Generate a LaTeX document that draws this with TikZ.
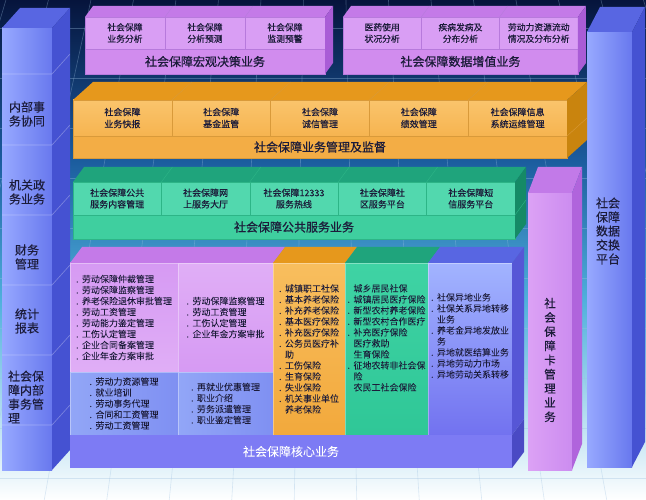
\documentclass[tikz,border=0pt]{standalone}
\usepackage{fontspec}
\setmainfont{Noto Sans CJK SC}[FakeBold=0.3]
\newfontfamily\barfont{Noto Sans CJK SC}[FakeBold=0.9]
\usetikzlibrary{positioning}
\definecolor{cBgA}{HTML}{06143C}
\definecolor{cBgB}{HTML}{1B5C9E}
\definecolor{cBgC}{HTML}{4FB0DC}
\definecolor{cGrid}{HTML}{9DC0E0}
\definecolor{cPurCell}{HTML}{D99EF4}
\definecolor{cPurBar}{HTML}{D18CEE}
\definecolor{cPurTop}{HTML}{C47AE8}
\definecolor{cPurSide}{HTML}{A95CD6}
\definecolor{cPurLine}{HTML}{B77ADC}
\definecolor{cOraCell}{HTML}{FAC46C}
\definecolor{cOraCellB}{HTML}{F6B450}
\definecolor{cOraBar}{HTML}{F3AD45}
\definecolor{cOraTop}{HTML}{E6981C}
\definecolor{cOraSide}{HTML}{C9840E}
\definecolor{cOraLine}{HTML}{D99A3A}
\definecolor{cGrnCell}{HTML}{52D8AE}
\definecolor{cGrnBar}{HTML}{3FCF9F}
\definecolor{cGrnTop}{HTML}{1FA47C}
\definecolor{cGrnSide}{HTML}{158A66}
\definecolor{cGrnLine}{HTML}{2DB587}
\definecolor{cBluL}{HTML}{97A9FF}
\definecolor{cBluR}{HTML}{6878EE}
\definecolor{cBluTop}{HTML}{5866E2}
\definecolor{cBluSide}{HTML}{4552D2}
\definecolor{cKPur}{HTML}{D69AF3}
\definecolor{cKPurB}{HTML}{E0AEF6}
\definecolor{cKBlu}{HTML}{92A6F7}
\definecolor{cKBluB}{HTML}{7F90F2}
\definecolor{cKOra}{HTML}{F8BE5E}
\definecolor{cKOraB}{HTML}{F2A93C}
\definecolor{cKGrn}{HTML}{3FD3A4}
\definecolor{cKGrnB}{HTML}{2FC797}
\definecolor{cKRt}{HTML}{A2B4FF}
\definecolor{cKRb}{HTML}{7272F0}
\definecolor{cKBar}{HTML}{7D7BF4}
\definecolor{cKSide}{HTML}{5656D6}
\definecolor{cKBarSide}{HTML}{4A4AC4}
\definecolor{cCrdL}{HTML}{DCA2F5}
\definecolor{cCrdR}{HTML}{CC8CF0}
\definecolor{cCrdTop}{HTML}{C27AE8}
\definecolor{cCrdSide}{HTML}{B064DC}
\definecolor{ink}{HTML}{1C1C3A}
\newcommand{\dt}{\makebox[6pt][l]{.}}
\newcommand{\nd}{\makebox[6pt][l]{}}

\begin{document}
\begin{tikzpicture}[x=1pt,y=-1pt,inner sep=0pt,outer sep=0pt]
\tikzstyle{grid}=[draw=cGrid,opacity=0.35,line width=0.6pt]
\tikzstyle{pcell}=[fill=cPurCell,draw=cPurLine,line width=0.5pt,minimum width=80pt,minimum height=32pt,align=center,text=ink,font=\fontsize{8.8}{11.5}\selectfont]
\tikzstyle{pbar}=[fill=cPurBar,draw=cPurLine,line width=0.5pt,minimum height=25pt,text=ink,font=\barfont\fontsize{12}{14}\selectfont]
\tikzstyle{ocell}=[top color=cOraCell,bottom color=cOraCellB,draw=cOraLine,line width=0.5pt,minimum width=98.8pt,minimum height=36pt,align=center,text=ink,font=\fontsize{9}{12}\selectfont]
\tikzstyle{obar}=[fill=cOraBar,draw=cOraLine,line width=0.5pt,minimum width=494pt,minimum height=22pt,text=ink,font=\barfont\fontsize{12}{14}\selectfont]
\tikzstyle{gcell}=[fill=cGrnCell,draw=cGrnLine,line width=0.5pt,minimum width=88.4pt,minimum height=33pt,align=center,text=ink,font=\fontsize{9}{11.5}\selectfont]
\tikzstyle{gbar}=[fill=cGrnBar,draw=cGrnLine,line width=0.5pt,minimum width=442pt,minimum height=24pt,text=ink,font=\barfont\fontsize{12}{14}\selectfont]
\tikzstyle{kcell}=[align=left,text=ink,font=\fontsize{9}{11}\selectfont,draw=white,draw opacity=0.35,line width=0.5pt]
\tikzstyle{pillar}=[left color=cBluL,right color=cBluR,anchor=north west]
\tikzstyle{plabel}=[align=center,text=ink,font=\fontsize{12}{14}\selectfont]
\tikzstyle{sepline}=[draw=white,opacity=0.3,line width=0.6pt]

\useasboundingbox (0,0) rectangle (646,500);
\shade[top color=cBgA,bottom color=cBgB] (0,0) rectangle (646,160);
\shade[top color=cBgB,bottom color=cBgC] (0,160) rectangle (646,300);
\shade[top color=cBgC,bottom color=white] (0,300) rectangle (646,500);
\foreach \x in {-250,-200,...,900}
  \draw[grid] ({323+(\x-323)*0.85},0) -- ({323+(\x-323)*1.25},500);
\foreach \y in {28,78,...,478}
  \draw[grid] (0,\y) -- (646,\y);

\node[pillar,minimum width=50pt,minimum height=442pt] (lp) at (2,28) {};
\fill[cBluTop] (lp.north west) -- ++(18,-20) -- ([shift={(18,-20)}]lp.north east) -- (lp.north east) -- cycle;
\fill[cBluSide] (lp.north east) -- ++(18,-20) -- ([shift={(18,-20)}]lp.south east) -- (lp.south east) -- cycle;
\foreach \y in {74,145,215,285,355,425}
  \draw[sepline] (2,\y) -- (52,\y) -- ++(18,-20);
\node[plabel] (lpa) at (27,114) {内部事\\务协同};
\node[plabel] (lpb) at (27,192) {机关政\\务业务};
\node[plabel] (lpc) at (27,257) {财务\\管理};
\node[plabel] (lpd) at (27,321) {统计\\报表};
\node[plabel,align=left] (lpe) at (26,397) {社会保\\障内部\\事务管\\理};

\node[pillar,left color=cCrdL,right color=cCrdR,minimum width=44pt,minimum height=277pt] (cp) at (528,193) {};
\fill[cCrdTop] (cp.north west) -- ++(10,-26) -- ([shift={(10,-26)}]cp.north east) -- (cp.north east) -- cycle;
\fill[cCrdSide] (cp.north east) -- ++(10,-26) -- ([shift={(10,-26)}]cp.south east) -- (cp.south east) -- cycle;
\node[plabel,font=\fontsize{11.5}{14.2}\selectfont] (cpa) at (550,360) {社\\会\\保\\障\\卡\\管\\理\\业\\务};

\node[pillar,minimum width=45pt,minimum height=435pt] (rp) at (587,32) {};
\fill[cBluTop] (rp.north west) -- ++(13,-25) -- ([shift={(13,-25)}]rp.north east) -- (rp.north east) -- cycle;
\fill[cBluSide] (rp.north east) -- ++(13,-25) -- ([shift={(13,-25)}]rp.south east) -- (rp.south east) -- cycle;
\node[plabel] (rpa) at (608,231) {社会\\保障\\数据\\交换\\平台};

\node[pcell,anchor=north west] (ma) at (85,17) {社会保障\\业务分析};
\node[pcell] (mb) [right=0pt of ma] {社会保障\\分析预测};
\node[pcell] (mc) [right=0pt of mb] {社会保障\\监测预警};
\node[pbar,minimum width=240pt] (mbar) [below=0pt of mb] {社会保障宏观决策业务};
\fill[cPurTop] (ma.north west) -- ++(8,-11) -- ([shift={(8,-11)}]mc.north east) -- (mc.north east) -- cycle;
\fill[cPurSide] (mc.north east) -- ++(8,-11) -- ([shift={(8,-11)}]mbar.south east) -- (mbar.south east) -- cycle;
\draw[cPurLine] (ma.north east) -- ++(8,-11) (mb.north east) -- ++(8,-11);

\node[pcell,minimum width=78.3pt,anchor=north west] (da) at (343,17) {医药使用\\状况分析};
\node[pcell,minimum width=78.3pt] (db) [right=0pt of da] {疾病发病及\\分布分析};
\node[pcell,minimum width=78.3pt] (dc) [right=0pt of db] {劳动力资源流动\\情况及分布分析};
\node[pbar,minimum width=235pt] (dbar) [below=0pt of db] {社会保障数据增值业务};
\fill[cPurTop] (da.north west) -- ++(8,-11) -- ([shift={(8,-11)}]dc.north east) -- (dc.north east) -- cycle;
\fill[cPurSide] (dc.north east) -- ++(8,-11) -- ([shift={(8,-11)}]dbar.south east) -- (dbar.south east) -- cycle;
\draw[cPurLine] (da.north east) -- ++(8,-11) (db.north east) -- ++(8,-11);

\node[ocell,anchor=north west] (sa) at (73,100) {社会保障\\业务快报};
\node[ocell] (sb) [right=0pt of sa] {社会保障\\基金监管};
\node[ocell] (sc) [right=0pt of sb] {社会保障\\诚信管理};
\node[ocell] (sd) [right=0pt of sc] {社会保障\\绩效管理};
\node[ocell] (se) [right=0pt of sd] {社会保障信息\\系统运维管理};
\node[obar] (sbar) [below=0pt of sc] {社会保障业务管理及监督};
\fill[cOraTop] (sa.north west) -- ++(20,-18) -- ([shift={(20,-18)}]se.north east) -- (se.north east) -- cycle;
\fill[cOraSide] (se.north east) -- ++(20,-18) -- ([shift={(20,-18)}]sbar.south east) -- (sbar.south east) -- cycle;
\draw[cOraLine] (sa.north east) -- ++(20,-18) (sb.north east) -- ++(20,-18) (sc.north east) -- ++(20,-18) (sd.north east) -- ++(20,-18) (se.south east) -- ++(20,-18);

\node[gcell,anchor=north west] (fa) at (73,182) {社会保障公共\\服务内容管理};
\node[gcell] (fb) [right=0pt of fa] {社会保障网\\上服务大厅};
\node[gcell] (fc) [right=0pt of fb] {社会保障12333\\服务热线};
\node[gcell] (fd) [right=0pt of fc] {社会保障社\\区服务平台};
\node[gcell] (fe) [right=0pt of fd] {社会保障短\\信服务平台};
\node[gbar] (fbar) [below=0pt of fc] {社会保障公共服务业务};
\fill[cGrnTop] (fa.north west) -- ++(11,-15) -- ([shift={(11,-15)}]fe.north east) -- (fe.north east) -- cycle;
\fill[cGrnSide] (fe.north east) -- ++(11,-15) -- ([shift={(11,-15)}]fbar.south east) -- (fbar.south east) -- cycle;
\draw[cGrnLine] (fa.north east) -- ++(11,-15) (fb.north east) -- ++(11,-15) (fc.north east) -- ++(11,-15) (fd.north east) -- ++(11,-15) (fe.south east) -- ++(11,-15);

\node[kcell,top color=cKPur,bottom color=cKPurB,minimum width=108pt,minimum height=109pt,anchor=north west] (kpa) at (70,263)
  {\dt 劳动保障仲裁管理\\\dt 劳动保障监察管理\\\dt 养老保险退休审批管理\\\dt 劳动工资管理\\\dt 劳动能力鉴定管理\\\dt 工伤认定管理\\\dt 企业合同备案管理\\\dt 企业年金方案审批};
\node[kcell,top color=cKPurB,bottom color=cKPur,minimum width=95pt,minimum height=109pt] (kpb) [right=0pt of kpa]
  {\dt 劳动保障监察管理\\\dt 劳动工资管理\\\dt 工伤认定管理\\\dt 企业年金方案审批};
\node[kcell,left color=cKBlu,right color=cKBluB,minimum width=108pt,minimum height=63pt] (kba) [below=0pt of kpa]
  {\dt 劳动力资源管理\\\dt 就业培训\\\dt 劳动事务代理\\\dt 合同和工资管理\\\dt 劳动工资管理};
\node[kcell,left color=cKBlu,right color=cKBluB,minimum width=95pt,minimum height=63pt] (kbb) [below=0pt of kpb]
  {\dt 再就业优惠管理\\\dt 职业介绍\\\dt 劳务派遣管理\\\dt 职业鉴定管理};
\node[kcell,top color=cKOra,bottom color=cKOraB,minimum width=72pt,minimum height=172pt,anchor=north west] (ko) at (kpb.north east)
  {\dt 城镇职工社保\\\dt 基本养老保险\\\dt 补充养老保险\\\dt 基本医疗保险\\\dt 补充医疗保险\\\dt 公务员医疗补\\\nd 助\\\dt 工伤保险\\\dt 生育保险\\\dt 失业保险\\\dt 机关事业单位\\\nd 养老保险};
\node[kcell,top color=cKGrn,bottom color=cKGrnB,minimum width=83pt,minimum height=172pt,anchor=north west] (kg) at (ko.north east)
  {\nd 城乡居民社保\\\dt 城镇居民医疗保险\\\dt 新型农村养老保险\\\dt 新型农村合作医疗\\\dt 补充医疗保险\\\nd 医疗救助\\\nd 生育保险\\\dt 征地农转非社会保\\\nd 险\\\nd 农民工社会保险\\[12pt]};
\node[kcell,top color=cKRt,bottom color=cKRb,minimum width=84pt,minimum height=172pt,anchor=north west] (kr) at (kg.north east)
  {\dt 社保异地业务\\\dt 社保关系异地转移\\\nd 业务\\\dt 养老金异地发放业\\\nd 务\\\dt 异地就医结算业务\\\dt 异地劳动力市场\\\dt 异地劳动关系转移\\[16pt]};
\node[kcell,fill=cKBar,text=white,draw=none,minimum width=442pt,minimum height=33pt,anchor=north west,font=\barfont\fontsize{12}{14}\selectfont] (kbar) at (kba.south west) {社会保障核心业务};
\fill[cPurTop] (kpa.north west) -- ++(12,-16) -- ([shift={(12,-16)}]kpb.north east) -- (kpb.north east) -- cycle;
\fill[cOraTop] (ko.north west) -- ++(12,-16) -- ([shift={(12,-16)}]ko.north east) -- (ko.north east) -- cycle;
\fill[cGrnTop] (kg.north west) -- ++(12,-16) -- ([shift={(12,-16)}]kg.north east) -- (kg.north east) -- cycle;
\fill[cBluTop] (kr.north west) -- ++(12,-16) -- ([shift={(12,-16)}]kr.north east) -- (kr.north east) -- cycle;
\fill[cKSide] (kr.north east) -- ++(12,-16) -- ([shift={(12,-16)}]kr.south east) -- (kr.south east) -- cycle;
\fill[cKBarSide] (kbar.north east) -- ++(12,-16) -- ([shift={(12,-16)}]kbar.south east) -- (kbar.south east) -- cycle;
\end{tikzpicture}
\end{document}
